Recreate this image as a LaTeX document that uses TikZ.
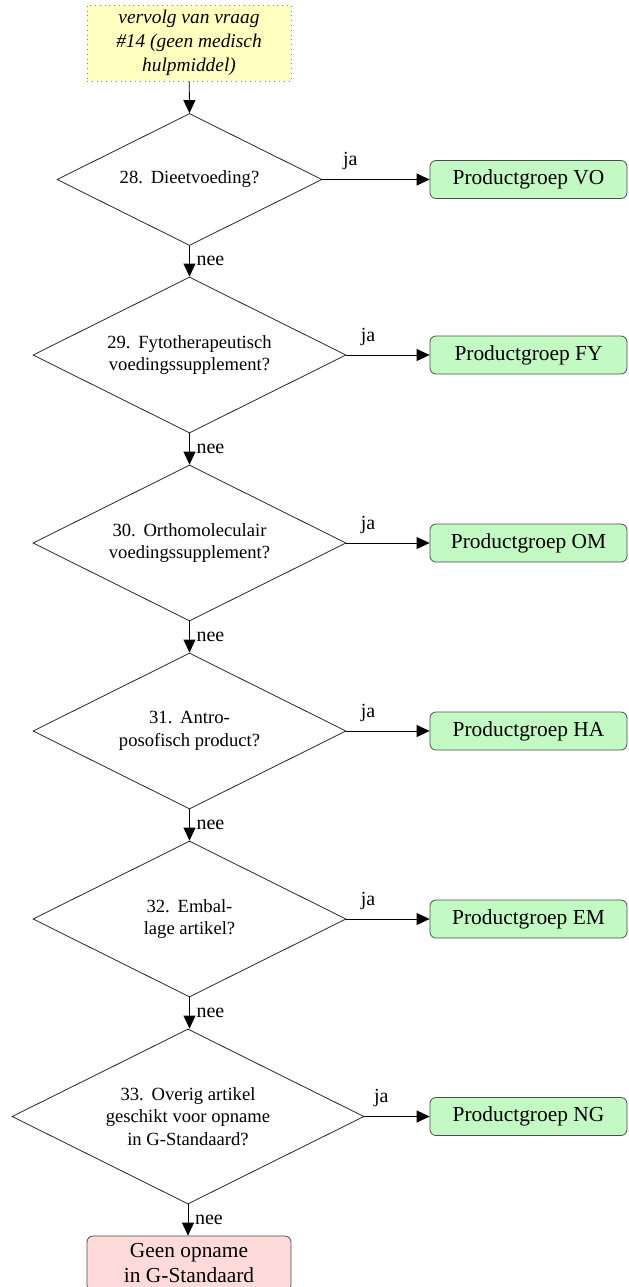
\documentclass[tikz,border=0pt]{standalone}
\usepackage{fontspec}
\setmainfont{Liberation Serif}
\usetikzlibrary{shapes.geometric,arrows.meta}
\definecolor{startfill}{RGB}{255,255,192}
\definecolor{grpfill}{RGB}{195,250,195}
\definecolor{endfill}{RGB}{255,218,218}
\newcommand{\qsp}{\hspace{0.42em}}
\begin{document}
\begin{tikzpicture}[x=0.5pt,y=-0.5pt,
  q/.style={diamond, draw=black!85, line width=0.4pt, shape aspect=2, inner sep=0pt, align=center,
    font=\fontsize{9.3}{11.25}\selectfont},
  q1/.style={q, minimum width=132.5pt, minimum height=66pt},
  qm/.style={q, minimum width=156.5pt, minimum height=78pt},
  q6/.style={q, minimum width=176pt, minimum height=87.5pt},
  grp/.style={draw=black!70, line width=0.4pt, fill=grpfill, rounded corners=3pt, minimum width=98.5pt,
    minimum height=19pt, inner sep=0pt, font=\fontsize{10.7}{12.5}\selectfont},
  startbox/.style={draw=black!50, dotted, line width=0.4pt, fill=startfill, minimum width=102pt, minimum height=38pt,
    inner sep=0pt, align=center, font=\fontsize{9.7}{12}\selectfont\itshape},
  endbox/.style={draw=black!70, line width=0.4pt, fill=endfill, rounded corners=3pt, minimum width=102pt,
    minimum height=27.5pt, inner sep=0pt, align=center, font=\fontsize{10.7}{12.5}\selectfont},
  arr/.style={-{Triangle[length=6.5pt,width=6pt]}, line width=0.4pt, draw=black},
  lbl/.style={font=\fontsize{10}{12}\selectfont, inner sep=3.3pt},
  jalbl/.style={font=\fontsize{10}{12}\selectfont, inner sep=4.6pt},
]
\useasboundingbox (0,0) rectangle (628,1287);

\node[startbox] (s) at (189,43) {vervolg van vraag\\ \#14 (geen medisch\\ hulpmiddel)};

\node[q1] (d1) at (189.5,179.5) {28.\qsp Dieetvoeding?};
\node[qm] (d2) at (189.5,355) {29.\qsp Fytotherapeutisch\\ voedingssupplement?};
\node[qm] (d3) at (189.5,543) {30.\qsp Orthomoleculair\\ voedingssupplement?};
\node[qm] (d4) at (189.5,731) {31.\qsp Antro-\\ posofisch product?};
\node[qm] (d5) at (189.5,919) {32.\qsp Embal-\\ lage artikel?};
\node[q6] (d6) at (188,1116.5) {33.\qsp Overig artikel\\ geschikt voor opname\\ in G-Standaard?};

\node[grp] (g1) at (528.5,179.5) {Productgroep VO};
\node[grp] (g2) at (528.5,355) {Productgroep FY};
\node[grp] (g3) at (528.5,543) {Productgroep OM};
\node[grp] (g4) at (528.5,731) {Productgroep HA};
\node[grp] (g5) at (528.5,919) {Productgroep EM};
\node[grp] (g6) at (528.5,1116.5) {Productgroep NG};

\node[endbox] (e) at (189,1263.5) {Geen opname\\ in G-Standaard};

\draw[arr] (s) -- (d1.north);
\draw[arr] (d1.south) -- node[lbl, right] {nee} (d1.south |- d2.north);
\draw[arr] (d2.south) -- node[lbl, right] {nee} (d3.north);
\draw[arr] (d3.south) -- node[lbl, right] {nee} (d4.north);
\draw[arr] (d4.south) -- node[lbl, right] {nee} (d5.north);
\draw[arr] (d5.south) -- node[lbl, right] {nee} (d5.south |- d6.north);
\draw[arr] (d6.south) -- node[lbl, right] {nee} (d6.south |- e.north);

\foreach \i in {1,...,6}{
  \draw[arr] (d\i.east) -- node[jalbl, above, pos=0.26] {ja} (g\i.west);
}
\end{tikzpicture}
\end{document}
